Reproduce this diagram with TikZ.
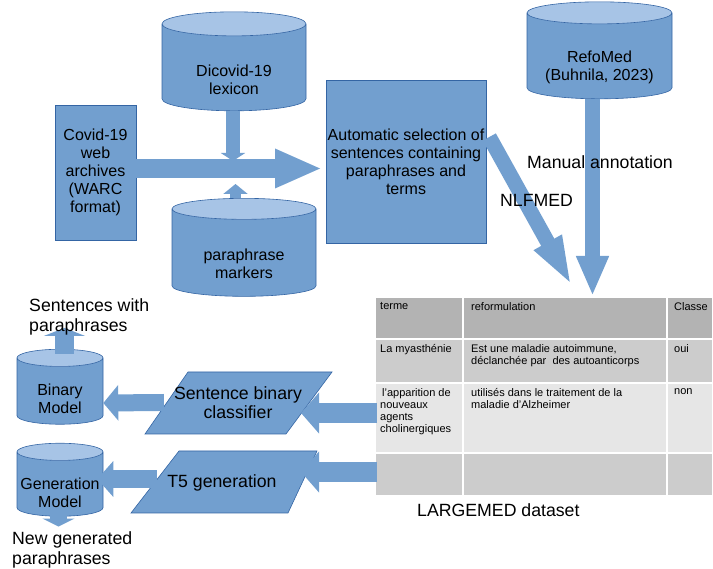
\documentclass[tikz,border=0pt]{standalone}
\usepackage{fontspec}
\setmainfont{Liberation Sans}
\usetikzlibrary{shapes.geometric,arrows.meta,positioning}

\definecolor{boxblue}{HTML}{729FCF}
\definecolor{lineblue}{HTML}{3465A4}
\definecolor{topblue}{HTML}{A7C4E6}
\definecolor{headgray}{HTML}{B3B3B3}
\definecolor{rowgray}{HTML}{CCCCCC}
\definecolor{lightgray}{HTML}{E6E6E6}

\tikzset{
  box/.style={rectangle, fill=boxblue, draw=lineblue, line width=0.6pt,
    align=center, inner sep=0pt, font=\fontsize{16}{18}\selectfont},
  can/.style 2 args={cylinder, shape border rotate=90, aspect=#1,
    inner xsep=#2, inner ysep=0pt,
    cylinder uses custom fill, cylinder body fill=boxblue,
    cylinder end fill=topblue, draw=lineblue, line width=0.6pt},
  cantext/.style={align=center, inner sep=0pt, font=\fontsize{16}{18}\selectfont},
  slantbox/.style={fill=boxblue, draw=lineblue, line width=0.6pt, line join=miter},
  slanttext/.style={align=center, inner sep=0pt, font=\fontsize{17.7}{19}\selectfont},
  flow/.style n args={3}{draw=boxblue, line width=#1,
    -{Triangle[length=#2, width=#3]}},
  note/.style={font=\fontsize{17.7}{20}\selectfont, align=left, inner sep=0pt},
  tabcell/.style={rectangle, draw=white, line width=2pt, outer sep=0pt,
    anchor=north west},
  cell/.style={font=\fontsize{11}{12}\selectfont, align=left, inner sep=0pt,
    anchor=north west}
}

\begin{document}
\begin{tikzpicture}[x=1pt, y=-1pt]
\useasboundingbox (0,0) rectangle (713,569);
%----------------------------------
\node [box, minimum width=81pt, minimum height=135pt] (covid) at (95.5,172.5)
  {Covid-19\\web\\archives\\(WARC\\format)};
\node [can={0.167}{72pt}, minimum width=144pt, minimum height=99pt,
  label={[cantext, yshift=-6pt]center:{Dicovid-19\\lexicon}}] (dicovid) at (234,73.5) {};
\node [can={0.146}{72pt}, minimum width=144pt, minimum height=98pt,
  label={[cantext, yshift=-6pt]center:{paraphrase\\markers}}] (markers) at (244,258) {};
\node [box, minimum width=160pt, minimum height=163pt] (select) at (406,161.5)
  {Automatic selection of\\sentences containing\\paraphrases and\\terms};
\node [can={0.152}{72.5pt}, minimum width=145pt, minimum height=97pt,
  label={[cantext, yshift=-6pt]center:{RefoMed\\(Buhnila, 2023)}}] (refomed) at (599.5,61.5) {};
%----------------------------------
\coordinate (bigtip) at (322,168.5);
\coordinate (downtip) at (233,161);
\coordinate (uptip) at (235.5,184);
\coordinate (nlftip) at (572,286);
\coordinate (mantip) at (592.5,296);
\draw [flow={19pt}{47pt}{36pt}] ([yshift=4pt]covid.east) -- (bigtip);
\draw [flow={14pt}{8pt}{24pt}] (dicovid.south -| downtip) -- (downtip);
\draw [flow={11pt}{10pt}{24pt}] (markers.north -| uptip) -- (uptip);
\draw [flow={15pt}{50pt}{28pt}] ([xshift=3pt, yshift=24.5pt]select.east) -- (nlftip);
\draw [flow={15pt}{40pt}{30pt}] (refomed.south -| mantip) -- (mantip);
\node [note, anchor=west] (manual) at (527,162) {Manual annotation};
\node [note, anchor=west] (nlfmed) at (500,200) {NLFMED};
%----------------------------------
% LARGEMED table
\foreach \r/\ya/\yb/\col in {1/297/339/headgray, 2/339/383/rowgray,
    3/383/453/lightgray, 4/453/496/rowgray}
  \foreach \c/\xa/\xb in {1/375/463, 2/463/667, 3/667/713}
    \node [tabcell, fill=\col, minimum width={(\xb-\xa)*1pt},
      minimum height={(\yb-\ya)*1pt}] (cell-\r-\c) at (\xa,\ya) {};
\node [cell] at (380,302) {terme};
\node [cell] at (471,302) {reformulation};
\node [cell] at (674,302) {Classe};
\node [cell] at (380,344) {La myasthénie};
\node [cell] at (471,344) {Est une maladie autoimmune,\\déclanchée par\ \ des autoanticorps};
\node [cell] at (674,344) {oui};
\node [cell] at (380,388) {\hspace{2pt}l'apparition de\\nouveaux\\agents\\cholinergiques};
\node [cell] at (471,388) {utilisés dans le traitement de la\\maladie d'Alzheimer};
\node [cell] at (674,388) {non};
\node [note, anchor=west] (largemed) at (417,510) {LARGEMED dataset};
%----------------------------------
% slanted boxes
\draw [slantbox] (188,372) -- (332,372) -- (286,434) -- (145,434) -- cycle;
\node [slanttext] (classif) at (238,402.5) {Sentence binary\\classifier};
\draw [slantbox] (179,451) -- (317,451) -- (288,513) -- (131,513) -- cycle;
\node [slanttext] (tfive) at (222,483) {T5 generation};
\node [can={0.2}{43pt}, minimum width=86pt, minimum height=75pt,
  label={[cantext, yshift=-3.5pt]center:{Binary\\Model}}] (binary) at (60,395.5) {};
\node [can={0.2}{43pt}, minimum width=86pt, minimum height=73pt,
  label={[cantext, yshift=-4.5pt]center:{Generation\\Model}}] (genmodel) at (60,488.5) {};
%----------------------------------
\coordinate (clstip) at (301,413);
\coordinate (tfivetip) at (301,472);
\draw [flow={20pt}{18pt}{40pt}] ([xshift=2pt, yshift=5pt]cell-3-1.west) -- (clstip);
\draw [flow={20pt}{18pt}{40pt}] ([xshift=2pt, yshift=2.5pt]cell-4-1.west) -- (tfivetip);
\draw [flow={17pt}{15pt}{35pt}] ([xshift=-10pt]classif.west) -- ([yshift=-7.5pt]binary.east);
\draw [flow={18pt}{16pt}{35pt}] ([xshift=-10pt, yshift=4pt]tfive.west) -- ([xshift=-6pt, yshift=9.5pt]genmodel.east);
\draw [flow={19pt}{8pt}{41pt}] ([xshift=4.5pt, yshift=-5pt]binary.north)
  -- ([xshift=4.5pt, yshift=21pt]binary.north);
\draw [flow={17pt}{8pt}{32pt}] ([xshift=-1.5pt, yshift=5pt]genmodel.south)
  -- ([xshift=-1.5pt, yshift=-10pt]genmodel.south);
\node [note, anchor=west] (sentout) at (29,316.5) {Sentences with\\paraphrases};
\node [note, anchor=west] (newout) at (12,550) {New generated\\paraphrases};
\end{tikzpicture}
\end{document}
